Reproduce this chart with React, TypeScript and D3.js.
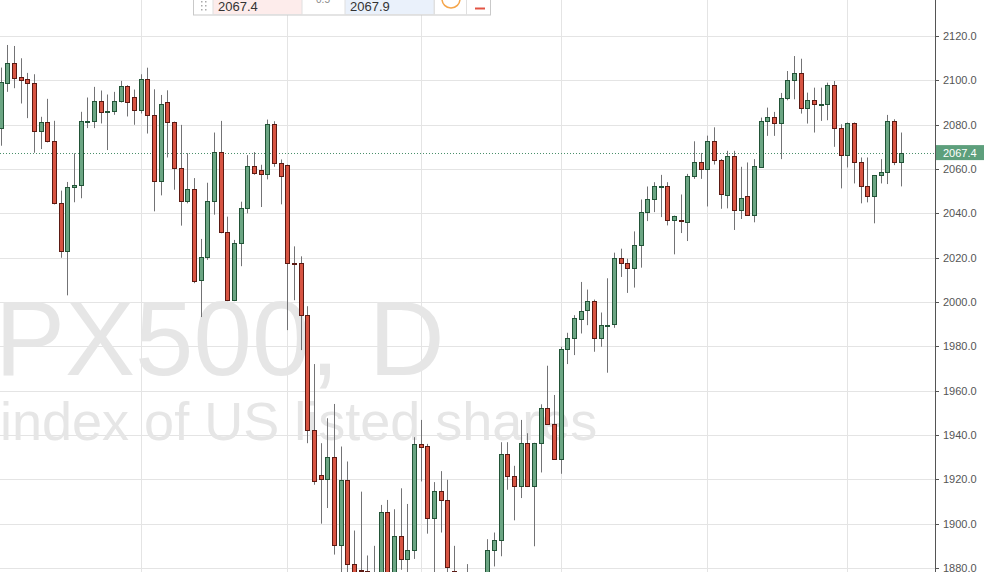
import React from "react";
import * as d3 from "d3";

const opens = [2078.45,2099,2107.7,2101.4,2100.5,2098.7,2077.1,2081.15,2072.6,2044.55,2023.1,2051.9,2052.8,2081.6,2081.6,2090.6,2085.65,2085.95,2090.6,2097.35,2092.4,2086.55,2100.45,2084.25,2054.55,2090.1,2081.1,2060.4,2045.55,2050.95,2010,2020.35,2045.55,2067.75,2031.6,2000.7,2026.8,2042.55,2061.3,2059.65,2057.7,2080.35,2062.65,2061.75,2017.75,2017.75,1994.35,1942.15,1921.9,1920.1,1930,1890.55,1919.7,1881.75,1879,1878.8,1876,1872,1905.15,1875,1894.5,1884,1888.3,1935.85,1934.95,1902.55,1914.55,1910.7,1878.8,1874,1874,1871,1873,1876,1888.2,1892.8,1931.35,1921.3,1916.8,1936.3,1916.8,1936.3,1952.05,1944.85,1929.1,1978.75,1983.55,1992.55,1996.6,2000.65,1983.55,1989.5,1989.85,2020,2017.75,2015.5,2025.85,2040.4,2046.55,2052.4,2052.4,2037.1,2037.1,2036.2,2056.9,2063.2,2060.05,2072.5,2064.1,2048.25,2065.8,2041.5,2047.8,2039.4,2061,2081.55,2083.35,2080.65,2091.9,2100,2103.15,2087.4,2091,2089.2,2089.2,2097.75,2078.7,2066.25,2080.8,2062.95,2052.15,2047.95,2057.25,2058.45,2081.7,2062.95];
const highs = [2105.75,2115.95,2115.5,2109.95,2103.35,2102.75,2083.55,2091.65,2081.75,2050.25,2054.15,2067.05,2085.8,2092.25,2097.05,2095.4,2093.6,2094.8,2099.75,2097.8,2095.85,2102.75,2105.7,2095.95,2093.4,2095.5,2081.4,2079.9,2067.15,2055.9,2028.45,2053.8,2076.45,2081.7,2038.5,2028,2045.25,2066.25,2067.6,2061.9,2082.3,2081.55,2064.3,2062,2025.1,2020.6,1998.1,1972,1936.3,1947.55,1954,1934.8,1928.05,1896.9,1914.45,1885.65,1890,1908.45,1910.7,1906.5,1915.95,1908.9,1939,1946.8,1936,1918.75,1923.7,1919.8,1890,1877,1881.75,1877,1878,1893,1896,1936.75,1936.75,1926.1,1946.8,1940.8,1936.5,1953.85,1971.25,1958.05,1979.8,1986.1,1994.05,2009.05,2005.6,2001.1,1995.25,2010.7,2022.25,2024.05,2019.55,2031.85,2046.25,2052.1,2054.05,2057.35,2054.05,2039,2048.5,2057.8,2072.5,2067.25,2075.05,2078.8,2064.5,2068.2,2068.2,2061,2062.95,2064.45,2083.2,2087.7,2085.75,2094.3,2104.2,2110.95,2109.75,2094.45,2096.7,2096.7,2098.95,2099.7,2080.2,2081,2081,2065.2,2065.2,2057.3,2064.45,2084.4,2082.45,2076.45];
const lows = [2070.5,2094.8,2096.45,2089.55,2082.95,2067.35,2069,2072,2044,2019.95,2003,2045,2046.8,2078.45,2078.45,2080.55,2068.55,2084.45,2090,2083.7,2079.95,2085.05,2076,2040.9,2048.1,2065.2,2050.65,2034.45,2044.5,2008.5,1993.2,2019,2039.4,2031,2000.4,2000.4,2016.15,2040,2057.4,2042.85,2055.3,2061,2044.05,1987.3,2000.8,1978.3,1936.3,1917.55,1900,1907.05,1886.05,1874,1872,1868,1870,1872,1866,1868,1870,1870,1879.2,1877,1884.1,1919.05,1895.5,1876,1896,1876,1872,1866,1864,1866,1868,1872,1880.7,1885.3,1915.3,1901.5,1911.55,1916.5,1889.8,1923.1,1944.5,1928.9,1922.5,1972,1976.05,1985.8,1989.55,1977.55,1979.8,1968.1,1988.35,2011.3,2004.1,2006.5,2015.5,2036.5,2040.55,2038.3,2034.55,2021.5,2031.1,2027.5,2055.55,2055.55,2043.1,2062,2042.05,2042.25,2032.5,2037.45,2039,2035.95,2060.8,2074.95,2074.95,2064.45,2091,2091.45,2085,2080.5,2076.45,2081.7,2082,2070,2051.25,2060.7,2053.5,2044.5,2044.95,2035.5,2053.5,2053.2,2061.75,2052.15];
const closes = [2099.3,2107.85,2101.25,2100.35,2098.7,2077.1,2081.15,2072.6,2044.55,2023.1,2052.05,2052.8,2081.6,2081.7,2090.6,2085.5,2086.1,2090.6,2097.35,2090.15,2086.55,2100.5,2084.25,2054.55,2089.2,2081.1,2060.25,2045.55,2050.95,2009.55,2020.35,2045.55,2067.75,2031.6,2000.7,2026.8,2042.55,2061.3,2058,2057.7,2080.35,2062.65,2056.8,2017.75,2017.6,1994.35,1942.15,1919.35,1920.1,1930,1890.55,1919.8,1881.75,1874,1878.5,1878.6,1872,1905.15,1874,1894.5,1884,1888.2,1935.85,1934.8,1902.55,1914.55,1910.8,1880.25,1878.3,1870,1872,1874,1876,1888.2,1892.7,1931.35,1921.3,1916.8,1936.3,1916.8,1936.3,1952.05,1944.85,1929.1,1978.75,1983.55,1992.7,1996,2000.65,1983.55,1989.4,1989.8,2020,2017.75,2015.5,2025.85,2040.4,2046.55,2052.4,2052.5,2037.1,2038.9,2036.35,2056.9,2063.2,2060.05,2072.5,2064.25,2048.5,2065.8,2041.5,2046.9,2039.4,2061.3,2081.7,2083.35,2080.65,2092.05,2100,2103.15,2087.4,2091,2089.2,2089.3,2097.75,2078.7,2066.25,2080.8,2062.95,2052.15,2047.95,2057.25,2058.75,2081.7,2062.95,2067.4];

const priceTicks = [1880, 1900, 1920, 1940, 1960, 1980, 2000, 2020, 2040, 2060, 2080, 2100, 2120];
const gridIndices = [21, 43, 63, 84, 106, 127];
const lastPrice = 2067.4;
const bidText = "2067.4";
const spreadText = "0.5";
const askText = "2067.9";
const watermark1 = "SPX500, D";
const watermark2 = "index of US listed shares";

const W = 984;
const H = 572;
const AXIS_X = 935;

export default function App() {
  const x = d3.scaleLinear().domain([0, opens.length - 1]).range([0.7, 900.7]);
  const y = d3.scaleLinear().domain([1880, 2120]).range([568, 36]);
  const up = "#6ba583", down = "#d75442", upB = "#225437", downB = "#5b1a13", wick = "#737375";
  const bw = 5;
  const fmt = d3.format(".1f");
  return (
    <svg width={W} height={H} style={{ position: "absolute", left: 0, top: 0, background: "#fff" }} fontFamily="'Liberation Sans', Arial, sans-serif">
      <rect width={W} height={H} fill="#fff" />
      <defs>
        <clipPath id="plot"><rect x={0} y={0} width={AXIS_X} height={H} /></clipPath>
      </defs>
      <g clipPath="url(#plot)">
        {priceTicks.map(t => (
          <line key={t} x1={0} x2={AXIS_X} y1={Math.round(y(t)) + 0.5} y2={Math.round(y(t)) + 0.5} stroke="#e4e4e4" />
        ))}
        {gridIndices.map(i => (
          <line key={i} x1={Math.round(x(i)) + 0.5} x2={Math.round(x(i)) + 0.5} y1={0} y2={H} stroke="#e4e4e4" />
        ))}
        <text x={-75} y={375} fontSize={105} fill="#e6e6e6">{watermark1}</text>
        <text x={0} y={440} fontSize={54} fill="#e6e6e6">{watermark2}</text>
        <line x1={0} x2={AXIS_X} y1={Math.round(y(lastPrice)) + 0.5} y2={Math.round(y(lastPrice)) + 0.5} stroke="#4a8f6a" strokeDasharray="1,2" />
        {opens.map((o, i) => {
          const c = closes[i];
          const cx = Math.round(x(i));
          const isUp = c >= o;
          const top = Math.round(y(Math.max(o, c)));
          const bot = Math.round(y(Math.min(o, c)));
          const h = Math.max(1, bot - top);
          return (
            <g key={i}>
              <line x1={cx + 0.5} x2={cx + 0.5} y1={y(highs[i])} y2={y(lows[i])} stroke={wick} />
              <rect x={cx - 2 + 0.5} y={top + 0.5} width={bw - 1} height={h} fill={isUp ? up : down} stroke={isUp ? upB : downB} />
            </g>
          );
        })}
      </g>
      <line x1={AXIS_X + 0.5} x2={AXIS_X + 0.5} y1={0} y2={H} stroke="#555" />
      {priceTicks.map(t => (
        <g key={t}>
          <line x1={AXIS_X} x2={AXIS_X + 4} y1={Math.round(y(t)) + 0.5} y2={Math.round(y(t)) + 0.5} stroke="#555" />
          <text x={943} y={y(t) + 4} fontSize={11} fill="#555">{fmt(t)}</text>
        </g>
      ))}
      <rect x={AXIS_X + 1} y={y(lastPrice) - 7.5} width={W - AXIS_X - 1} height={15} fill="#5d9f7c" />
      <text x={943} y={y(lastPrice) + 4} fontSize={11} fill="#fff">{fmt(lastPrice)}</text>
      <g>
        <rect x={193.5} y={-10} width={297} height={25} fill="#fff" stroke="#c9c9c9" />
        <rect x={213} y={-10} width={89} height={24.5} fill="#fdeceb" stroke="#e0e0e0" />
        <rect x={345} y={-10} width={89} height={24.5} fill="#eaf1fb" stroke="#e0e0e0" />
        <line x1={466.5} x2={466.5} y1={-10} y2={15} stroke="#e0e0e0" />
        <line x1={434.5} x2={434.5} y1={-10} y2={15} stroke="#e0e0e0" />
        {[0, 1, 2].map(r => [0, 1].map(c => (
          <rect key={`${r}-${c}`} x={201 + c * 4} y={1 + r * 4} width={1.5} height={1.5} fill="#aaa" />
        )))}
        <text x={218} y={11} fontSize={13} fill="#333">{bidText}</text>
        <text x={323} y={3} fontSize={10} fill="#888" textAnchor="middle">{spreadText}</text>
        <text x={350} y={11} fontSize={13} fill="#333">{askText}</text>
        <circle cx={451} cy={-1} r={9} fill="none" stroke="#f5a54a" strokeWidth={1.5} />
        <line x1={475} x2={485} y1={8.5} y2={8.5} stroke="#e25444" strokeWidth={2} />
      </g>
    </svg>
  );
}
